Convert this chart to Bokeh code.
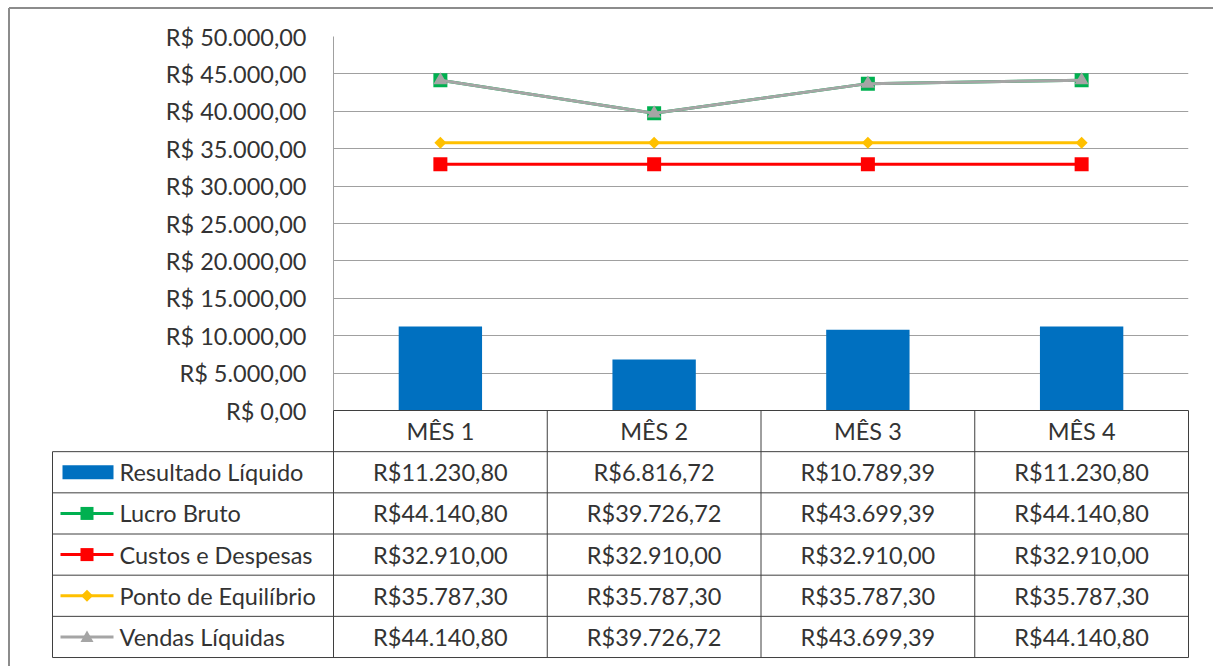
import math
from bokeh.plotting import figure
from bokeh.models import Range1d, FixedTicker
from bokeh.core.properties import value
from bokeh.embed import file_html
from bokeh.resources import INLINE

# ---------------- data ----------------
months = ["MÊS 1", "MÊS 2", "MÊS 3", "MÊS 4"]
resultado_liquido = [11230.80, 6816.72, 10789.39, 11230.80]
lucro_bruto = [44140.80, 39726.72, 43699.39, 44140.80]
custos_despesas = [32910.00, 32910.00, 32910.00, 32910.00]
ponto_equilibrio = [35787.30, 35787.30, 35787.30, 35787.30]
vendas_liquidas = [44140.80, 39726.72, 43699.39, 44140.80]
series_names = ["Resultado Líquido", "Lucro Bruto", "Custos e Despesas",
                "Ponto de Equilíbrio", "Vendas Líquidas"]
y_ticks = [0, 5000, 10000, 15000, 20000, 25000, 30000, 35000, 40000, 45000, 50000]


def brl(v, sep=""):
    s = f"{v:,.2f}".replace(",", "X").replace(".", ",").replace("X", ".")
    return "R$" + sep + s


# ---------------- layout constants (page pixels) ----------------
W, H = 1213, 666
F_LEFT, F_RIGHT, F_TOP, F_BOT = 333, 1188, 36, 410
PX_PER_X = (F_RIGHT - F_LEFT) / 4.0
ROW_H = 41.17
FRAME_H = F_BOT - F_TOP

FONT = value("Lato")
TXT_COLOR = "#333333"
FS = "23.5px"

BLUE, GREEN, RED, YELLOW, GRAY = "#0070c0", "#00b050", "#ff0000", "#ffc000", "#a5a5a5"


def sx(px):
    return (px - F_LEFT) / PX_PER_X


def sy(py):
    return (py - F_BOT) / ROW_H


p = figure(width=W, height=H, x_range=Range1d(0, 4), y_range=Range1d(0, 50000),
           output_backend="svg", toolbar_location=None, x_axis_location=None,
           min_border_left=F_LEFT, min_border_right=W - F_RIGHT,
           min_border_top=F_TOP, min_border_bottom=H - F_BOT)
p.extra_y_ranges = {"tbl": Range1d(start=0, end=-FRAME_H / ROW_H)}
p.outline_line_color = None
p.background_fill_color = "white"
p.border_fill_color = "white"

ax = p.yaxis[0]
ax.ticker = FixedTicker(ticks=y_ticks)
ax.major_label_overrides = {t: brl(t, " ") for t in y_ticks}
ax.major_label_text_font = "Lato"
ax.major_label_text_font_size = FS
ax.major_label_text_color = TXT_COLOR
ax.major_tick_line_color = None
ax.minor_tick_line_color = None
ax.axis_line_color = "#a0a0a0"
ax.axis_line_width = 1
ax.major_label_standoff = 21

p.xgrid.visible = False
p.ygrid.ticker = FixedTicker(ticks=y_ticks)
p.ygrid.grid_line_color = "#a0a0a0"
p.ygrid.grid_line_width = 1

xs = [i + 0.5 for i in range(len(months))]

# ---------------- chart ----------------
p.vbar(x=xs, top=resultado_liquido, width=0.39, fill_color=BLUE, line_color=None)

p.line(xs, custos_despesas, line_color=RED, line_width=3)
p.scatter(xs, custos_despesas, marker="square", size=14, fill_color=RED, line_color=None)

p.line(xs, ponto_equilibrio, line_color=YELLOW, line_width=3)
p.scatter(xs, ponto_equilibrio, marker="square", angle=math.pi / 4, size=8.5,
          fill_color=YELLOW, line_color=None)

p.line(xs, lucro_bruto, line_color=GREEN, line_width=3)
p.scatter(xs, lucro_bruto, marker="square", size=14, fill_color=GREEN, line_color=None)

p.line(xs, vendas_liquidas, line_color=GRAY, line_width=3)
p.scatter(xs, vendas_liquidas, marker="triangle", size=14, fill_color=GRAY, line_color=None)

# ---------------- data table ----------------
n_rows = 1 + len(series_names)
left_col = sx(52)
LINE_C = "#3f3f3f"
kw = dict(y_range_name="tbl", level="overlay")

p.segment(x0=[0], y0=[0], x1=[4], y1=[0], line_color=LINE_C, line_width=1, **kw)
hy = list(range(1, n_rows + 1))
p.segment(x0=[left_col] * len(hy), y0=hy, x1=[4] * len(hy), y1=hy,
          line_color=LINE_C, line_width=1, **kw)
vx = list(range(0, len(months) + 1))
p.segment(x0=vx, y0=[0] * len(vx), x1=vx, y1=[n_rows] * len(vx),
          line_color=LINE_C, line_width=1, **kw)
p.segment(x0=[left_col], y0=[1], x1=[left_col], y1=[n_rows],
          line_color=LINE_C, line_width=1, **kw)

p.text(x=xs, y=[0.5] * len(xs), text=months, text_font=FONT, text_font_size=FS,
       text_color=TXT_COLOR, text_align="center", text_baseline="middle", **kw)

all_series = [resultado_liquido, lucro_bruto, custos_despesas, ponto_equilibrio, vendas_liquidas]
for r, vals in enumerate(all_series):
    p.text(x=xs, y=[r + 1.5] * len(xs), text=[brl(v) for v in vals], text_font=FONT,
           text_font_size=FS, text_color=TXT_COLOR, text_align="center",
           text_baseline="middle", **kw)

p.text(x=[sx(119)] * len(series_names), y=[r + 1.5 for r in range(len(series_names))],
       text=series_names, text_font=FONT, text_font_size=FS, text_color=TXT_COLOR,
       text_align="left", text_baseline="middle", **kw)

# legend keys
key_x0, key_x1 = sx(60), sx(113)
kc = (key_x0 + key_x1) / 2
dx, dy = 1 / PX_PER_X, 1 / ROW_H
p.quad(left=[sx(62)], right=[key_x1], bottom=[1.5 + 7 * dy], top=[1.5 - 7 * dy],
       fill_color=BLUE, line_color=None, **kw)
key_colors = [GREEN, RED, YELLOW, GRAY]
for k, col in enumerate(key_colors):
    yy = k + 2.5
    p.segment(x0=[key_x0], y0=[yy], x1=[key_x1], y1=[yy], line_color=col, line_width=3, **kw)
for yy, col in [(2.5, GREEN), (3.5, RED)]:
    p.quad(left=[kc - 6.5 * dx], right=[kc + 6.5 * dx], top=[yy - 6.5 * dy],
           bottom=[yy + 6.5 * dy], fill_color=col, line_color=None, **kw)
yy = 4.5
p.patch(x=[kc - 6 * dx, kc, kc + 6 * dx, kc], y=[yy, yy - 6 * dy, yy, yy + 6 * dy],
        fill_color=YELLOW, line_color=None, **kw)
yy = 5.5
p.patch(x=[kc - 6.5 * dx, kc, kc + 6.5 * dx], y=[yy + 5 * dy, yy - 6.5 * dy, yy + 5 * dy],
        fill_color=GRAY, line_color=None, **kw)

# outer chart border (left and top)
bx = sx(8.5)
by = sy(7.5)
p.segment(x0=[bx, bx], y0=[by, by], x1=[bx, sx(W + 5)], y1=[sy(H + 5), by],
          line_color="#8c8c8c", line_width=2, **kw)

open("out.html", "w").write(file_html(p, INLINE))
